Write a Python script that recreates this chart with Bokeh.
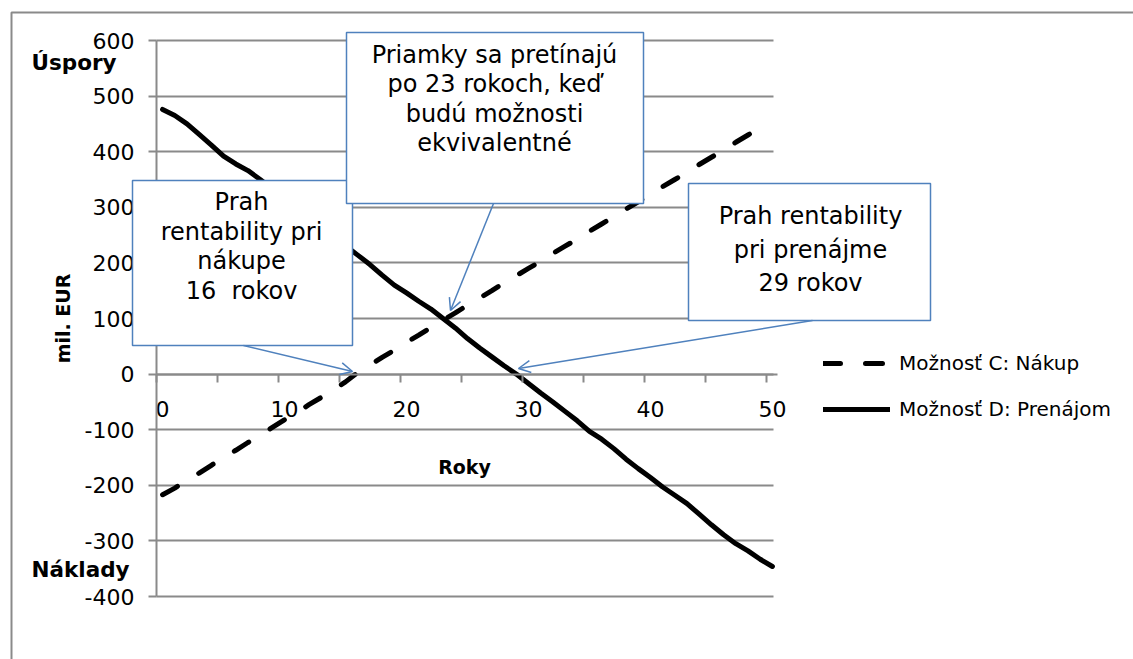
from bokeh.plotting import figure
from bokeh.models import (Range1d, FixedTicker, BoxAnnotation, Label, Arrow,
                          OpenHead, Legend, LegendItem, Grid)
from bokeh.embed import file_html
from bokeh.resources import INLINE

# ---------------- data ----------------
years_buy = list(range(0, 50))
buy = [-217, -205, -191, -178, -164, -150, -137, -123, -110, -96,
       -82, -69, -55, -42, -28, -14, 3, 16, 30, 43,
       57, 70, 84, 97, 110, 124, 137, 150, 164, 177,
       190, 203, 217, 230, 243, 257, 270, 283, 297, 310,
       323, 337, 350, 363, 377, 390, 403, 417, 430, 443]
years_lease = list(range(0, 51))
lease = [476, 465, 450, 431, 412, 392, 378, 366, 350, 333,
         316, 299, 282, 265, 248, 231, 214, 197, 178, 160,
         146, 131, 117, 100, 83, 64, 47, 31, 15, 0,
         -17, -34, -50, -67, -84, -103, -117, -134, -153, -170,
         -186, -203, -218, -233, -252, -271, -289, -305, -318, -333, -346]

series_names = ["Možnosť C: Nákup", "Možnosť D: Prenájom"]
x_ticks = [0, 10, 20, 30, 40, 50]
x_tick_labels = ["0", "10", "20", "30", "40", "50"]
x_minor_ticks = [-0.5, 4.5, 9.5, 14.5, 19.5, 24.5, 29.5, 34.5, 39.5, 44.5, 49.5]
y_ticks = [-400, -300, -200, -100, 0, 100, 200, 300, 400, 500, 600]
y_tick_labels = ["-400", "-300", "-200", "-100", "0", "100", "200", "300", "400", "500", "600"]

box_texts = [
    ["Prah", "rentability pri", "nákupe", "16\u00a0 rokov"],
    ["Priamky sa pretínajú", "po 23 rokoch, keď", "budú možnosti", "ekvivalentné"],
    ["Prah rentability", "pri prenájme", "29 rokov"],
]

# ---------------- layout helpers (screen px -> data) ----------------
W, H = 1133, 659
FL, FR, FT, FB = 156, 778, 40, 596      # plot area in page pixels
XR = (-0.5, 50.5)
YR = (-400, 600)


def dx(px):
    return XR[0] + (px - FL) / (FR - FL) * (XR[1] - XR[0])


def dy(py):
    return YR[1] - (py - FT) / (FB - FT) * (YR[1] - YR[0])


FONT = "DejaVu Sans"
GRAY = "#8a8a8a"
BLUE = "#4f81bd"

p = figure(width=W, height=H, output_backend="svg", toolbar_location=None,
           x_range=Range1d(dx(0), dx(W)), y_range=Range1d(dy(H), dy(0)),
           min_border_left=0, min_border_right=0, min_border_top=0, min_border_bottom=0)
p.outline_line_color = None
p.background_fill_color = "white"
p.border_fill_color = "white"

# grid (horizontal only, limited to the plot area)
p.xgrid.visible = False
p.ygrid.ticker = FixedTicker(ticks=y_ticks)
p.ygrid.grid_line_color = GRAY
p.ygrid.grid_line_width = 2
if "cross_bounds" in Grid.properties():
    p.ygrid.cross_bounds = (XR[0], dx(773))
else:
    p.ygrid.visible = False
    p.segment(x0=[XR[0]] * len(y_ticks), y0=y_ticks, x1=[dx(773)] * len(y_ticks),
              y1=y_ticks, line_color=GRAY, line_width=2, level="underlay")

# y axis (at the left edge of the plot area)
p.yaxis.fixed_location = XR[0]
p.yaxis.bounds = YR
p.yaxis.ticker = FixedTicker(ticks=y_ticks)
p.yaxis.major_label_overrides = {t: l for t, l in zip(y_ticks, y_tick_labels)}
p.yaxis.axis_line_color = GRAY
p.yaxis.axis_line_width = 2
p.yaxis.major_tick_line_color = GRAY
p.yaxis.major_tick_line_width = 2
p.yaxis.major_tick_out = 8
p.yaxis.major_tick_in = 0
p.yaxis.minor_tick_line_color = None
p.yaxis.major_label_standoff = 14
p.yaxis.major_label_text_font = FONT
p.yaxis.major_label_text_font_size = "22px"
p.yaxis.major_label_text_color = "black"

# x axis (crosses at 0)
p.xaxis.fixed_location = 0
p.xaxis.bounds = (XR[0], dx(777))
p.xaxis.ticker = FixedTicker(ticks=x_ticks, minor_ticks=x_minor_ticks)
p.xaxis.major_label_overrides = {t: l for t, l in zip(x_ticks, x_tick_labels)}
p.xaxis.axis_line_color = GRAY
p.xaxis.axis_line_width = 2
p.xaxis.major_tick_line_color = None
p.xaxis.major_tick_out = 0
p.xaxis.major_tick_in = 0
p.xaxis.minor_tick_line_color = GRAY
p.xaxis.minor_tick_line_width = 2
p.xaxis.minor_tick_out = 8
p.xaxis.minor_tick_in = 0
p.xaxis.major_label_standoff = 19
p.xaxis.major_label_text_font = FONT
p.xaxis.major_label_text_font_size = "22px"
p.xaxis.major_label_text_color = "black"

# series
r_buy = p.line(years_buy, buy, line_width=5, line_color="black", line_dash="17 25",
               line_cap="round", line_join="round")
r_lease = p.line(years_lease, lease, line_width=5, line_color="black",
                 line_cap="round", line_join="round")

# outer chart border
p.add_layout(BoxAnnotation(left=dx(11), top=dy(12), right=dx(W + 50), bottom=dy(H + 50),
                           fill_alpha=0, line_color=GRAY, line_alpha=1, line_width=2))

# callout boxes
boxes = [(132, 352, 180, 345), (346, 643, 32, 203), (688, 930, 183, 320)]
for (l, r, t, b) in boxes:
    p.add_layout(BoxAnnotation(left=dx(l), right=dx(r), top=dy(t), bottom=dy(b),
                               fill_color="white", fill_alpha=1,
                               line_color=BLUE, line_alpha=1, line_width=1.5))

# arrows
arrows = [((243, 345), (352, 371)), ((493, 203), (450, 310)), ((812, 320), (518, 368))]
for (s, e) in arrows:
    p.add_layout(Arrow(x_start=dx(s[0]), y_start=dy(s[1]), x_end=dx(e[0]), y_end=dy(e[1]),
                       line_color=BLUE, line_width=1.5,
                       end=OpenHead(size=12, line_color=BLUE, line_width=1.5)))

# box texts (baseline y positions in page pixels)
centers = [241, 494, 810]
baselines = [[201, 231, 260, 290], [54, 83, 113, 142], [215, 249, 282]]
for lines, cx, bl in zip(box_texts, centers, baselines):
    for txt, yb in zip(lines, bl):
        p.add_layout(Label(x=dx(cx), y=dy(yb), text=txt, text_align="center",
                           text_baseline="alphabetic", text_font=FONT,
                           text_font_size="24px", text_color="black"))

# side labels
p.add_layout(Label(x=dx(31), y=dy(62), text="Úspory", text_align="left",
                   text_baseline="alphabetic", text_font=FONT, text_font_style="bold",
                   text_font_size="21.5px", text_color="black"))
p.add_layout(Label(x=dx(31), y=dy(569), text="Náklady", text_align="left",
                   text_baseline="alphabetic", text_font=FONT, text_font_style="bold",
                   text_font_size="21.5px", text_color="black"))
p.add_layout(Label(x=dx(62), y=dy(318), text="mil. EUR", text_align="center",
                   text_baseline="middle", angle=1.5707963, text_font=FONT,
                   text_font_style="bold", text_font_size="19px", text_color="black"))
p.add_layout(Label(x=dx(464), y=dy(466), text="Roky", text_align="center",
                   text_baseline="alphabetic", text_font=FONT, text_font_style="bold",
                   text_font_size="19px", text_color="black"))

# legend
legend = Legend(items=[LegendItem(label=series_names[0], renderers=[r_buy]),
                       LegendItem(label=series_names[1], renderers=[r_lease])],
                location=(823, H - 421), orientation="vertical",
                glyph_width=67, glyph_height=24, label_height=24, label_width=10,
                label_standoff=9, spacing=22, padding=0, margin=0,
                border_line_color=None, background_fill_alpha=0,
                label_text_font=FONT, label_text_font_size="20px",
                label_text_color="black")
p.add_layout(legend)

open("out.html", "w").write(file_html(p, INLINE))
